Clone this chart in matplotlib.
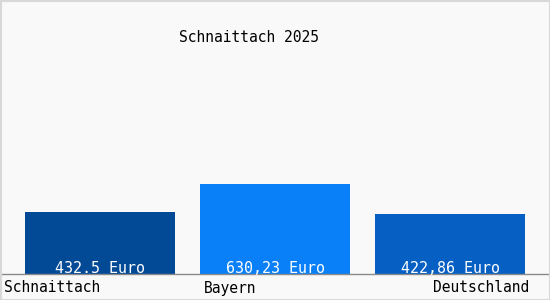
import matplotlib
matplotlib.use("Agg")
import matplotlib.pyplot as plt
import numpy as np

title = "Schnaittach 2025"
regions = ["Schnaittach", "Bayern", "Deutschland"]
values = [432.5, 630.23, 422.86]
value_labels = ["432.5 Euro", "630,23 Euro", "422,86 Euro"]
bar_colors = ["#034a96", "#0a80f8", "#0660c4"]

plt.rcParams["font.family"] = ["DejaVu Sans Mono"]

fig = plt.figure(figsize=(5.5, 3), dpi=100, facecolor="#f9f9f9")
# axes spans full width, from top of figure down to baseline at y=274px
ax = fig.add_axes([0, 26 / 300, 1, 274 / 300])
ax.set_facecolor("none")

x = np.arange(len(values))
ax.bar(x, values, width=150 / 175, color=bar_colors)
ax.set_xlim(-100 / 175, 2 + 100 / 175)
ax.set_ylim(0, max(values) * 274 / 90)

for xi, lab in zip(x, value_labels):
    ax.annotate(lab, (xi, 0), xytext=(0, -1.5), textcoords="offset points",
                ha="center", va="bottom", color="white", fontsize=10.8)

for s in ["top", "left", "right"]:
    ax.spines[s].set_visible(False)
ax.spines["bottom"].set_color("#8a8a8a")
ax.spines["bottom"].set_linewidth(1)
ax.set_xticks([])
ax.set_yticks([])

# category labels below the axis
fig.text(4 / 550, 1 - 288 / 300, regions[0], ha="left", va="center", fontsize=10.5)
fig.text(204 / 550, 1 - 288 / 300, regions[1], ha="left", va="center", fontsize=10.5)
fig.text(529 / 550, 1 - 288 / 300, regions[2], ha="right", va="center", fontsize=10.5)

fig.text(249 / 550, 1 - 38 / 300, title, ha="center", va="center", fontsize=10.5)

# light frame
frame = plt.Rectangle((0.5 / 550, 0.5 / 300), 549 / 550, 299 / 300, transform=fig.transFigure,
                      fill=False, edgecolor="#d8d8d8", linewidth=1.5)
fig.patches.append(frame)

fig.savefig("out.png", dpi=100, facecolor=fig.get_facecolor())
